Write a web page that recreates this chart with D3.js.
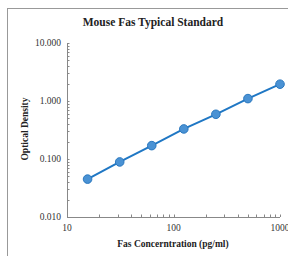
<!DOCTYPE html>
<html>
<head>
<meta charset="utf-8">
<script src="https://cdn.jsdelivr.net/npm/d3@7"></script>
<style>
  body { margin: 0; background: #fff; }
  svg { display: block; }
</style>
</head>
<body>
<div id="chart"></div>
<script>
// standard curve data
var conc = [15.6, 31.25, 62.5, 125, 250, 500, 1000];
var od = [0.045, 0.089, 0.170, 0.330, 0.590, 1.100, 1.950];
var xTicks = [10, 100, 1000];
var yTicks = [0.01, 0.1, 1, 10];

var svgWidth = 288;
var svgHeight = 256;

var svg = d3.select("#chart")
  .append("svg")
  .attr("width", svgWidth)
  .attr("height", svgHeight);

// outer frame (right and bottom run off the picture)
svg.append("rect")
  .attr("x", 7.5)
  .attr("y", 8.5)
  .attr("width", 300)
  .attr("height", 260)
  .attr("fill", "none")
  .attr("stroke", "#999")
  .attr("stroke-width", 1);

var x = d3.scaleLog().domain([10, 1000]).range([67, 280]);
var y = d3.scaleLog().domain([0.01, 10]).range([217, 43]);

var axisColor = "#888";
var fontFam = "'Liberation Serif', 'DejaVu Serif', serif";

// minor ticks
var xMinor = [];
var yMinor = [];
[10, 100].forEach(function(d) {
  for (var i = 2; i <= 9; i++) xMinor.push(d * i);
});
[0.01, 0.1, 1].forEach(function(d) {
  for (var i = 2; i <= 9; i++) yMinor.push(d * i);
});

var g = svg.append("g");

// axis lines
g.append("line")
  .attr("x1", x(10)).attr("x2", x(1000))
  .attr("y1", y(0.01) + 0.5).attr("y2", y(0.01) + 0.5)
  .attr("stroke", axisColor);
g.append("line")
  .attr("x1", x(10) + 0.5).attr("x2", x(10) + 0.5)
  .attr("y1", y(10)).attr("y2", y(0.01))
  .attr("stroke", axisColor);

g.selectAll(".xminor")
  .data(xMinor.concat(xTicks))
  .enter()
  .append("line")
  .attr("x1", function(d) { return Math.round(x(d)) + 0.5; })
  .attr("x2", function(d) { return Math.round(x(d)) + 0.5; })
  .attr("y1", y(0.01))
  .attr("y2", y(0.01) - 2.5)
  .attr("stroke", axisColor);

g.selectAll(".yminor")
  .data(yMinor.concat(yTicks))
  .enter()
  .append("line")
  .attr("x1", x(10))
  .attr("x2", x(10) + 2.5)
  .attr("y1", function(d) { return Math.round(y(d)) + 0.5; })
  .attr("y2", function(d) { return Math.round(y(d)) + 0.5; })
  .attr("stroke", axisColor);

// tick labels
g.selectAll(".xlab")
  .data(xTicks)
  .enter()
  .append("text")
  .attr("x", function(d) { return x(d); })
  .attr("y", y(0.01) + 14)
  .attr("text-anchor", "middle")
  .style("font-family", fontFam)
  .style("font-size", "9.5px")
  .attr("fill", "#333")
  .text(function(d) { return d; });

g.selectAll(".ylab")
  .data(yTicks)
  .enter()
  .append("text")
  .attr("x", x(10) - 6)
  .attr("y", function(d) { return y(d) + 3; })
  .attr("text-anchor", "end")
  .style("font-family", fontFam)
  .style("font-size", "9.5px")
  .attr("fill", "#333")
  .text(function(d) { return d3.format(".3f")(d); });

// curve
var line = d3.line()
  .x(function(d, i) { return x(conc[i]); })
  .y(function(d) { return y(d); });

g.append("path")
  .datum(od)
  .attr("d", line)
  .attr("fill", "none")
  .attr("stroke", "#1f77c4")
  .attr("stroke-width", 2);

g.selectAll("circle")
  .data(od)
  .enter()
  .append("circle")
  .attr("cx", function(d, i) { return x(conc[i]); })
  .attr("cy", function(d) { return y(d); })
  .attr("r", 4.3)
  .attr("fill", "#4a92d4")
  .attr("stroke", "#2a78bf")
  .attr("stroke-width", 1);

// titles
svg.append("text")
  .attr("x", 153)
  .attr("y", 26)
  .attr("text-anchor", "middle")
  .style("font-family", fontFam)
  .style("font-size", "11.5px")
  .style("font-weight", "bold")
  .attr("fill", "#222")
  .text("Mouse Fas Typical Standard");

svg.append("text")
  .attr("x", 173)
  .attr("y", 247)
  .attr("text-anchor", "middle")
  .style("font-family", fontFam)
  .style("font-size", "9.5px")
  .style("font-weight", "bold")
  .attr("fill", "#222")
  .text("Fas Concerntration (pg/ml)");

svg.append("text")
  .attr("transform", "translate(28, 129) rotate(-90)")
  .attr("text-anchor", "middle")
  .style("font-family", fontFam)
  .style("font-size", "9.5px")
  .style("font-weight", "bold")
  .attr("fill", "#222")
  .text("Optical Density");
</script>
</body>
</html>
